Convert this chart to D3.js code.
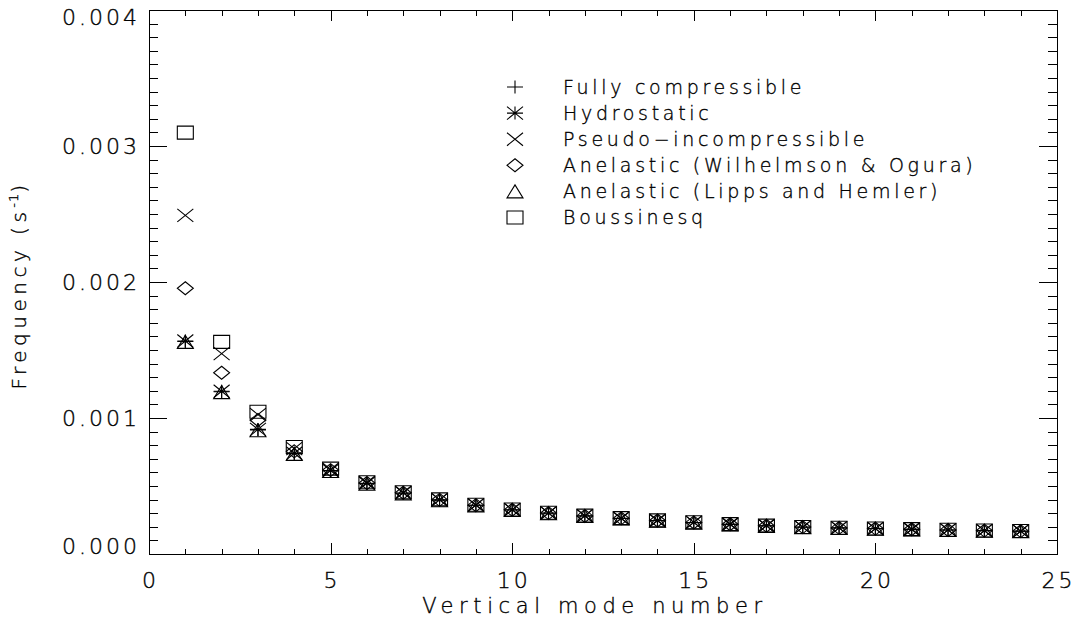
<!DOCTYPE html>
<html>
<head>
<meta charset="utf-8">
<script src="https://cdn.jsdelivr.net/npm/d3@7"></script>
<style>
    body { margin: 0; background: #ffffff; }
    text { font-family: "DejaVu Sans", sans-serif; font-weight: 200; fill: #000; stroke: #000; stroke-width: 0.35px; }
</style>
</head>
<body>
<div id="chart"></div>
<script>
// vertical mode numbers
let modes = [1, 2, 3, 4, 5, 6, 7, 8, 9, 10, 11, 12, 13, 14, 15, 16, 17, 18, 19, 20, 21, 22, 23, 24];

// frequencies (s^-1)
let fullyCompressible = [0.001562, 0.001193, 0.000912, 0.000738, 0.000612, 0.000518, 0.000447, 0.000396,
    0.000358, 0.000324, 0.000300, 0.000279, 0.000261, 0.000245, 0.000231, 0.000218,
    0.000207, 0.000197, 0.000191, 0.000186, 0.000181, 0.000176, 0.000171, 0.000167];
let hydrostatic = [0.001566, 0.001197, 0.000916, 0.000741, 0.000614, 0.000520, 0.000449, 0.000398,
    0.000359, 0.000325, 0.000301, 0.000280, 0.000262, 0.000246, 0.000232, 0.000219,
    0.000208, 0.000198, 0.000192, 0.000187, 0.000182, 0.000177, 0.000172, 0.000168];
let pseudoIncompressible = [0.002490, 0.001473, 0.001025, 0.000775, 0.000622, 0.000526, 0.000452, 0.000400,
    0.000361, 0.000326, 0.000302, 0.000281, 0.000263, 0.000246, 0.000232, 0.000219,
    0.000208, 0.000198, 0.000192, 0.000187, 0.000182, 0.000177, 0.000172, 0.000168];
let anelasticWO = [0.001954, 0.001333, 0.000985, 0.000755, 0.000617, 0.000522, 0.000450, 0.000398,
    0.000359, 0.000325, 0.000301, 0.000280, 0.000262, 0.000246, 0.000232, 0.000219,
    0.000208, 0.000198, 0.000192, 0.000187, 0.000182, 0.000177, 0.000172, 0.000168];
let anelasticLH = [0.001560, 0.001190, 0.000910, 0.000736, 0.000610, 0.000517, 0.000446, 0.000395,
    0.000357, 0.000323, 0.000300, 0.000279, 0.000261, 0.000245, 0.000231, 0.000218,
    0.000207, 0.000197, 0.000191, 0.000186, 0.000181, 0.000176, 0.000171, 0.000167];
let boussinesq = [0.003098, 0.001560, 0.001046, 0.000787, 0.000628, 0.000528, 0.000454, 0.000402,
    0.000362, 0.000327, 0.000303, 0.000282, 0.000264, 0.000247, 0.000233, 0.000220,
    0.000209, 0.000199, 0.000193, 0.000188, 0.000183, 0.000178, 0.000173, 0.000169];

let seriesNames = ["Fully compressible", "Hydrostatic", "Pseudo\u2212incompressible",
    "Anelastic (Wilhelmson & Ogura)", "Anelastic (Lipps and Hemler)", "Boussinesq"];
let seriesSymbols = ["plus", "asterisk", "cross", "diamond", "triangle", "square"];
let seriesValues = [fullyCompressible, hydrostatic, pseudoIncompressible, anelasticWO, anelasticLH, boussinesq];

let xTicks = [0, 5, 10, 15, 20, 25];
let xMinorTicks = d3.range(0, 26, 1);
let yTicks = [0, 0.001, 0.002, 0.003, 0.004];
let yMinorTicks = d3.range(0, 41).map(d => d / 10000);

// symbol outlines, half width 8, half height 6.5
function symbolPath(type) {
    let w = 8, h = 6.5;
    switch (type) {
        case "plus": return "M" + (-w) + ",0H" + w + "M0," + (-h) + "V" + h;
        case "cross": return "M" + (-w) + "," + (-h) + "L" + w + "," + h + "M" + (-w) + "," + h + "L" + w + "," + (-h);
        case "asterisk": return "M" + (-w) + ",0H" + w + "M0," + (-h) + "V" + h +
            "M" + (-w) + "," + (-h) + "L" + w + "," + h + "M" + (-w) + "," + h + "L" + w + "," + (-h);
        case "diamond": return "M0," + (-h) + "L" + w + ",0L0," + h + "L" + (-w) + ",0Z";
        case "triangle": return "M0," + (-h) + "L" + w + "," + h + "L" + (-w) + "," + h + "Z";
        case "square": return "M" + (-w) + "," + (-h) + "H" + w + "V" + h + "H" + (-w) + "Z";
    }
}

let margin = {top: 10, left: 149, right: 18, bottom: 68};
let width = 1075 - margin.left - margin.right;
let height = 622 - margin.top - margin.bottom;

let svg = d3.select("#chart").append("svg")
    .attr("width", 1075)
    .attr("height", 622);

let g = svg.append("g")
    .attr("transform", "translate(" + margin.left + "," + margin.top + ")");

let x = d3.scaleLinear().domain([0, 25]).range([0, width]);
let y = d3.scaleLinear().domain([0, 0.004]).range([height, 0]);

// frame: ticks pointing inward on all four sides
let sides = [
    {axis: d3.axisTop, scale: x, pos: "translate(0," + height + ")", major: xTicks, minor: xMinorTicks, majorLen: 11, minorLen: 5.5},
    {axis: d3.axisBottom, scale: x, pos: "translate(0,0)", major: xTicks, minor: xMinorTicks, majorLen: 11, minorLen: 5.5},
    {axis: d3.axisRight, scale: y, pos: "translate(0,0)", major: yTicks, minor: yMinorTicks, majorLen: 18, minorLen: 9},
    {axis: d3.axisLeft, scale: y, pos: "translate(" + width + ",0)", major: yTicks, minor: yMinorTicks, majorLen: 18, minorLen: 9}
];

sides.forEach(function(s) {
    let minorG = g.append("g")
        .attr("transform", s.pos)
        .call(s.axis(s.scale).tickValues(s.minor).tickSize(s.minorLen).tickSizeOuter(0).tickFormat(""));
    let majorG = g.append("g")
        .attr("transform", s.pos)
        .call(s.axis(s.scale).tickValues(s.major).tickSize(s.majorLen).tickSizeOuter(0).tickFormat(""));
    [minorG, majorG].forEach(function(a) {
        a.selectAll("line, path").attr("stroke", "#000").attr("shape-rendering", "crispEdges");
        a.selectAll("text").remove();
    });
});

// tick labels
g.selectAll("text.xlab")
    .data(xTicks)
    .enter().append("text")
    .attr("class", "xlab")
    .attr("x", d => x(d) + 1.5)
    .attr("y", height + 34)
    .attr("text-anchor", "middle")
    .style("font-size", "22px")
    .style("letter-spacing", "3px")
    .text(d => d);

g.selectAll("text.ylab")
    .data(yTicks)
    .enter().append("text")
    .attr("class", "ylab")
    .attr("x", -12 + 3)
    .attr("y", d => Math.min(Math.max(y(d), 7.5), height - 7.5))
    .attr("dy", "0.36em")
    .attr("text-anchor", "end")
    .style("font-size", "22px")
    .style("letter-spacing", "3px")
    .text(d => d3.format(".3f")(d));

// axis titles
g.append("text")
    .attr("x", width / 2 - 8)
    .attr("y", height + 59)
    .attr("text-anchor", "middle")
    .style("font-size", "21px")
    .style("letter-spacing", "5.6px")
    .text("Vertical mode number");

let yTitle = g.append("text")
    .attr("transform", "translate(" + (-123) + "," + (height / 2 + 3) + ") rotate(-90)")
    .attr("text-anchor", "middle")
    .style("font-size", "20px")
    .style("letter-spacing", "4.5px");
yTitle.append("tspan").text("Frequency (s");
yTitle.append("tspan").attr("dy", -8).style("font-size", "13px").style("letter-spacing", "1px").text("-1");
yTitle.append("tspan").attr("dy", 8).text(")");

// data marks
seriesValues.forEach(function(vals, i) {
    g.append("g")
        .attr("class", "series")
        .selectAll("path")
        .data(modes.map((m, j) => ({mode: m, value: vals[j]})))
        .enter().append("path")
        .attr("transform", d => "translate(" + x(d.mode) + "," + y(d.value) + ")")
        .attr("d", symbolPath(seriesSymbols[i]))
        .attr("fill", "none")
        .attr("stroke", "#000")
        .attr("stroke-width", 1.1);
});

// legend
let legend = svg.append("g")
    .attr("transform", "translate(515,87)");

let items = legend.selectAll("g.item")
    .data(seriesNames)
    .enter().append("g")
    .attr("class", "item")
    .attr("transform", (d, i) => "translate(0," + (i * 26.1) + ")");

items.append("path")
    .attr("d", (d, i) => symbolPath(seriesSymbols[i]))
    .attr("fill", "none")
    .attr("stroke", "#000")
    .attr("stroke-width", 1.1);

items.append("text")
    .attr("x", 48)
    .attr("dy", "0.36em")
    .style("font-size", "19px")
    .style("letter-spacing", "3.7px")
    .text(d => d);
</script>
</body>
</html>
